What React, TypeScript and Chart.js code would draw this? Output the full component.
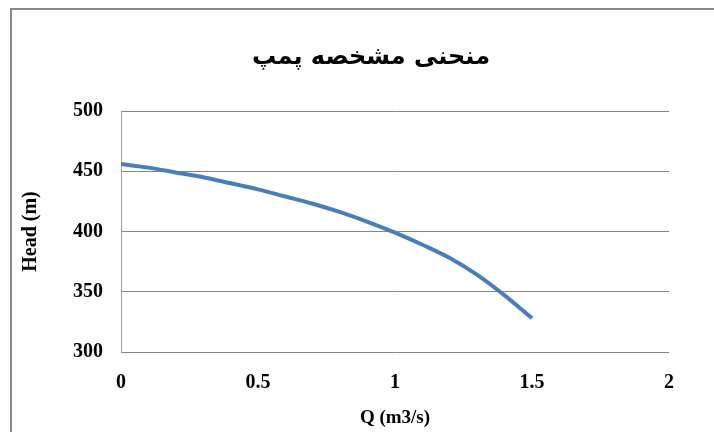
import React, { useEffect, useRef } from "react";
import { Chart, registerables } from "chart.js";

Chart.register(...registerables);

const flowQ = [0, 0.1, 0.2, 0.3, 0.4, 0.5, 0.6, 0.7, 0.8, 0.9, 1.0, 1.1, 1.2, 1.3, 1.4, 1.5];
const headH = [456, 453, 449, 445, 440, 435, 429, 423, 416, 408, 399, 389, 378, 364, 347, 328];
const chartTitle = "منحنی مشخصه پمپ";
const xTitle = "Q (m3/s)";
const yTitle = "Head (m)";

const framePlugin = {
  id: "frameAndTitle",
  beforeDraw(chart: any) {
    const ctx = chart.ctx;
    ctx.save();
    ctx.fillStyle = "#ffffff";
    ctx.fillRect(0, 0, chart.width, chart.height);
    ctx.strokeStyle = "#898989";
    ctx.lineWidth = 2;
    ctx.strokeRect(11, 9, 900, 900);
    ctx.fillStyle = "#000000";
    ctx.font = "bold 24px 'DejaVu Sans'";
    ctx.textAlign = "center";
    ctx.textBaseline = "middle";
    ctx.fillText(chartTitle, 371, 58);
    ctx.restore();
  },
};

export default function App() {
  const ref = useRef<HTMLCanvasElement | null>(null);
  useEffect(() => {
    if (!ref.current) return;
    const tickFont = { family: "'Liberation Serif'", size: 20, weight: "bold" as const };
    const titleFont = { family: "'Liberation Serif'", size: 19, weight: "bold" as const };
    const chart = new Chart(ref.current, {
      type: "line",
      data: {
        datasets: [
          {
            data: flowQ.map((q, i) => ({ x: q, y: headH[i] })),
            borderColor: "#4a7ebb",
            borderWidth: 4,
            pointRadius: 0,
            cubicInterpolationMode: "monotone",
            fill: false,
          },
        ],
      },
      options: {
        responsive: false,
        animation: false,
        layout: { padding: { left: 0, top: 111, right: 45, bottom: 0 } },
        plugins: { legend: { display: false }, title: { display: false }, tooltip: { enabled: false } },
        scales: {
          x: {
            type: "linear",
            min: 0,
            max: 2,
            ticks: {
              stepSize: 0.5,
              font: tickFont,
              color: "#000",
              padding: 19,
              callback: (v: any) => String(Number(v)),
            },
            grid: { display: false, drawTicks: false },
            border: { display: false },
            title: { display: true, text: xTitle, font: titleFont, color: "#000", padding: { top: 0, bottom: 3 } },
            afterFit: (s: any) => { s.height = 80; },
          },
          y: {
            type: "linear",
            min: 300,
            max: 500,
            ticks: { stepSize: 50, font: tickFont, color: "#000", padding: 18 },
            grid: { color: "#878787", lineWidth: 1, drawTicks: false },
            border: { display: true, color: "#a0a0a0", width: 1 },
            title: { display: true, text: yTitle, font: tickFont, color: "#000", padding: { top: 19, bottom: 0 } },
            afterFit: (s: any) => { s.width = 121; },
          },
        },
      },
      plugins: [framePlugin],
    });
    return () => chart.destroy();
  }, []);
  return (
    <div style={{ position: "absolute", left: 0, top: 0, width: 714, height: 432 }}>
      <canvas ref={ref} width={714} height={432} style={{ display: "block" }} />
    </div>
  );
}
